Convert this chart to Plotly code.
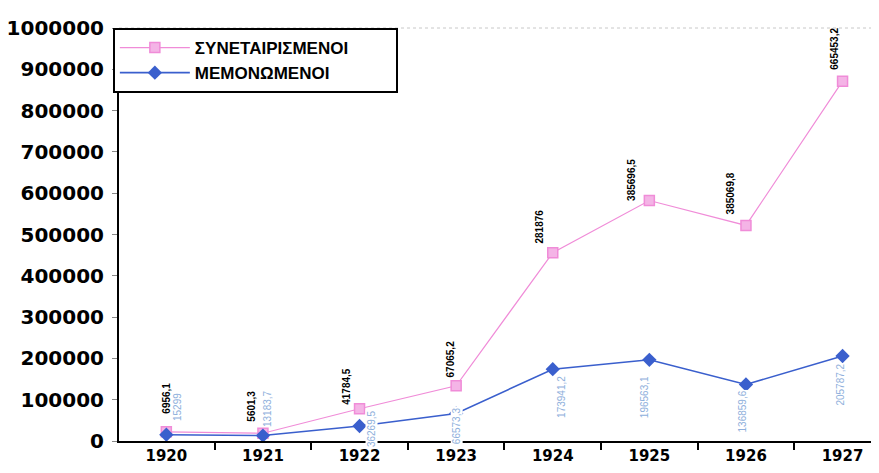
import plotly.graph_objects as go

years = ["1920", "1921", "1922", "1923", "1924", "1925", "1926", "1927"]
# ΣΥΝΕΤΑΙΡΙΣΜΕΝΟΙ values (plotted stacked on top of ΜΕΜΟΝΩΜΕΝΟΙ)
synet = [6956.1, 5601.3, 41784.5, 67065.2, 281876, 385696.5, 385069.8, 665453.2]
# ΜΕΜΟΝΩΜΕΝΟΙ values
memon = [15299, 13183.7, 36269.5, 66573.3, 173941.2, 196563.1, 136859.6, 205787.2]
y_ticks = list(range(0, 1000001, 100000))

# label nudges in px (style only)
pink_dx = [0, -11, -13, -6, -13, -18, -16, -8]
pink_dy = [16, 10, 2, 6, 7, -2, 9, 9]
blue_dx = [11, 4, 12, 0, 8, -5, -3, -3]
blue_dy = [13, 8, 17, 7, -6, -15, -5, -7]

pink = "#f08cd8"
blue = "#3a5fcd"
font = "Liberation Sans, Arial, sans-serif"
wide = "DejaVu Sans, sans-serif"

stacked = [a + b for a, b in zip(synet, memon)]


def fmt(v):
    if float(v).is_integer():
        return str(int(v))
    return f"{v:.1f}".replace(".", ",")


fig = go.Figure()
fig.add_trace(go.Scatter(
    x=years, y=stacked, name="ΣΥΝΕΤΑΙΡΙΣΜΕΝΟΙ" + "\u00a0" * 9, mode="lines+markers",
    line=dict(color=pink, width=1.2),
    marker=dict(symbol="square", size=10, color="#f4b4e6", line=dict(color=pink, width=1.5)),
))
fig.add_trace(go.Scatter(
    x=years, y=memon, name="ΜΕΜΟΝΩΜΕΝΟΙ", mode="lines+markers",
    line=dict(color=blue, width=1.6),
    marker=dict(symbol="diamond", size=11, color=blue),
))

# data labels (annotation x uses the category index on a category axis)
for i, yr in enumerate(years):
    fig.add_annotation(
        x=i, y=stacked[i], text=fmt(synet[i]), textangle=-90, showarrow=False,
        xanchor="center", yanchor="bottom", xshift=pink_dx[i], yshift=pink_dy[i],
        font=dict(family=font, size=10, color="black", weight="bold"),
    )
    low = i < 2
    fig.add_annotation(
        x=i, y=memon[i], text=fmt(memon[i]), textangle=-90, showarrow=False,
        xanchor="center", yanchor="bottom" if low else "top",
        xshift=blue_dx[i], yshift=blue_dy[i], bgcolor="white" if not low else None,
        borderpad=0,
        font=dict(family=font, size=10, color="#8fb0dc"),
    )

fig.update_layout(
    width=879, height=473,
    margin=dict(l=111, r=0, t=20, b=40),
    paper_bgcolor="white", plot_bgcolor="white",
    font=dict(family=font, color="black"),
    legend=dict(
        x=-0.008, y=1.0, xanchor="left", yanchor="top",
        bordercolor="black", borderwidth=2, bgcolor="white",
        font=dict(family=font, size=17, color="black", weight="bold"),
        itemwidth=70, tracegroupgap=0,
    ),
    shapes=[dict(type="line", xref="paper", yref="paper", x0=0, x1=1, y0=1, y1=1,
                 line=dict(color="#c8c8c8", width=1, dash="dot"))],
)
fig.update_xaxes(
    type="category", range=[-0.49, 7.46], automargin=False,
    showline=True, linecolor="black", linewidth=2,
    ticks="outside", tickson="boundaries", ticklen=7, tickcolor="black", tickwidth=2,
    tickfont=dict(family=wide, size=15, color="black", weight="bold"),
    showgrid=False,
)
fig.update_yaxes(
    range=[0, 1000000], tickvals=y_ticks, ticktext=[str(v) for v in y_ticks],
    automargin=False,
    showline=True, linecolor="black", linewidth=2,
    ticks="outside", ticklen=5, tickcolor="#888888", tickwidth=1,
    ticklabelstandoff=4,
    tickfont=dict(family=wide, size=20, color="black", weight="bold"),
    showgrid=False, zeroline=False,
)

fig.write_html("out.html")
